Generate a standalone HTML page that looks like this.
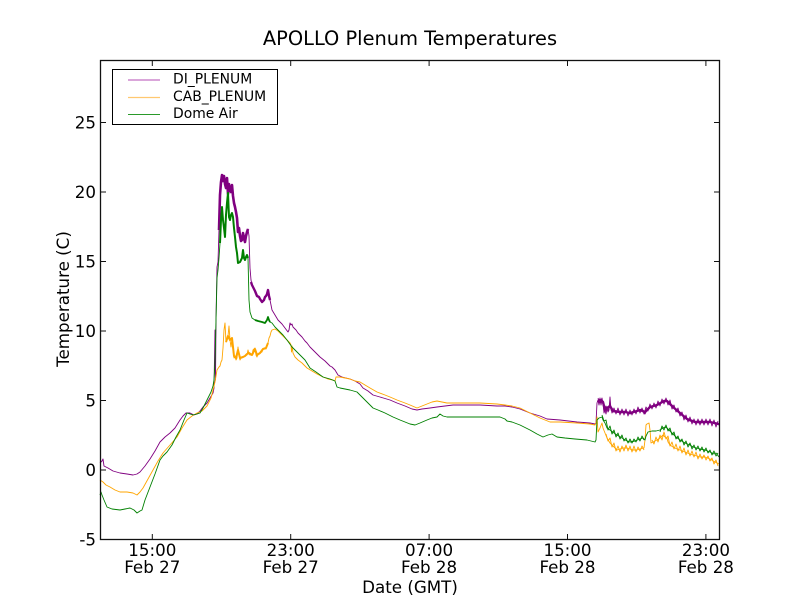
<!DOCTYPE html>
<html><head><meta charset="utf-8"><style>
html,body{margin:0;padding:0;background:#fff;}
svg{display:block;}
text{font-family:"DejaVu Sans","Liberation Sans",sans-serif;fill:#000;}
</style></head><body>
<svg width="800" height="600" viewBox="0 0 800 600" xmlns="http://www.w3.org/2000/svg">
<rect x="0" y="0" width="800" height="600" fill="#fff"/>
<text x="410" y="45" font-size="19.4" text-anchor="middle">APOLLO Plenum Temperatures</text>

<g fill="none" stroke-linejoin="round">
<!-- DI_PLENUM -->
<polyline stroke="#800080" stroke-width="0.9" points="100,463 102,461 103,459 104,466 108,468 113,471 120,473 127,474 133,475 137,474 140,472 145,466 150,459 155,451 160,442 165,437 170,433 175,428 180,420 183,416 186,413 190,413 194,415 197,414 200,411 203,407 207,403 210,398 213,393 214,388 215,330 215.5,380 216,320 217,267 218,262 219,230 220,195 221,182 222,175 223,181 224,176 225,184 226,188 227,178 228,194 229,184 230,190 231,192 232,185 233,196 234,203 235,207 236,212 237,218 238,232 239,228 240,236 241,241 242,240 243,233 244,238 245,242 246,236 247,232 248,229 249,236 250,268 251,280 252,285 254,289 255,291 257,296 259,297 260,299 262,302 264,300 265,297 266,296 267,294 268,290 269,296 270,300 271,305 272,310 275,315 278,320 282,324 285,328 288,332 289,330 290,323 291,325 292,324 293,327 296,330 298,333 302,337 305,341 307,343 310,347 315,352 320,357 325,361 330,366 332,367 335,370 338,375 342,377 346,378 350,379 355,381 360,384 363,388 368,391 373,395 380,397 390,400 397,403 405,406 412,409 417,410 422,409 430,408 437,407 445,406 453,405 470,405 480,405 497,406 505,406 512,407 520,409 530,413 540,416 547,419 560,420 577,422 590,423 595,424 596,423 597,403 598,400 599,405 600,398 601,405 602,400 603,401 604,413 605,410 606,414 607,408 608,412 609,410 610,397 611,410 613,412 617,411 620,413 625,412 630,414 633,413 637,411 640,410 643,410 645,414 647,410 650,407 653,406 657,405 660,403 664,401 667,401 670,403 673,407 677,410 680,413 683,416 687,419 690,421 695,422 700,423 705,422 710,422 715,424 719,425"/>
<polyline stroke="#800080" stroke-width="2.6" points="219,230 220,195 221,182 222,175 223,181 224,176 225,184 226,188 227,178 228,194 229,184 230,190 231,192 232,185 233,196 234,203 235,207 236,212 237,218 238,232 239,228 240,236 241,241 242,240 243,233 244,238 245,242 246,236 247,232 248,229"/>
<polyline stroke="#800080" stroke-width="2.4" points="251,282 252,285 254,289 255,291 257,296 259,297 260,299 262,302 264,300 265,297 266,296 267,294 268,290 269,296 270,300"/>
<polyline stroke="#800080" stroke-width="2.4" points="598,401 600,400 603,402 605,410 607,408 610,406 613,411 620,412 625,412 630,413 637,411 640,410 645,412 650,407 657,405 664,401 667,401 673,407 680,413 687,419 695,422 705,422 710,422 719,424"/>
<polyline stroke="#800080" stroke-width="0.9" points="598,398 600,403 602,398 604,411 606,406 608,411 610,403 612,413 614,408 616,414 618,408 620,415 622,409 624,415 626,409 628,416 630,410 632,415 634,409 636,414 638,407 640,413 642,408 644,414 646,407 648,411 650,404 652,409 654,403 656,408 658,401 660,406 662,399 664,404 666,398 668,405 670,400 672,409 674,405 676,412 678,408 680,416 682,412 684,420 686,415 688,422 690,417 692,424 694,419 696,425 698,419 700,425 702,419 704,425 706,419 708,425 710,419 712,426 714,420 716,427 718,421"/>

<!-- CAB_PLENUM -->
<polyline stroke="#FFA500" stroke-width="0.9" points="100,480 103,482 106,485 110,487 115,490 120,492 127,492 133,493 137,495 140,492 143,488 148,479 153,470 158,461 163,453 170,445 177,437 182,428 187,420 192,416 197,413 202,411 207,406 211,398 213,390 215,382 217,370 219,367 220,366 221,362 222,360 223,348 224,330 225,323 226,342 227,338 228,336 229,326 230,340 231,347 232,338 233,350 234,358 235,356 236,360 237,358 238,347 239,355 240,360 241,358 243,357 245,356 247,355 248,350 249,354 250,355 252,355 253,350 255,348 256,355 257,357 258,354 260,353 262,352 263,349 265,348 266,349 267,345 268,343 269,338 270,336 271,332 272,330 275,329 278,331 280,333 283,336 285,338 288,341 290,343 291,345 291.5,352 292,346 293,353 294,355 295,357 298,360 302,363 305,366 307,368 312,371 317,374 323,377 328,379 333,380 335,381 336,377 340,377 345,378 350,379 355,381 360,382 365,385 370,388 377,392 385,395 390,397 397,400 405,403 410,405 417,408 422,406 427,404 432,402 437,401 442,402 447,403 453,403 470,403 480,403 497,404 505,405 512,406 520,408 530,413 540,418 550,422 560,422 577,423 590,424 595,425 596,423 597,417 598,432 600,428 602,423 603,428 605,433 607,438 610,443 613,446 617,450 620,449 623,448 627,448 630,449 633,450 637,450 640,449 644,448 645,440 646,425 647,424 649,423 650,430 651,443 653,442 657,440 660,438 663,435 665,437 667,438 668,442 670,445 673,447 677,449 680,450 685,452 690,454 693,455 697,456 700,457 705,457 710,459 715,462 719,464"/>
<polyline stroke="#FFA500" stroke-width="2" points="226,342 228,336 230,340 232,338 234,356 236,358 238,350 240,358 243,357 245,356 247,354 249,353 252,355 255,349 257,355 260,353 263,349 266,348 268,343"/>
<polyline stroke="#FFA500" stroke-width="0.9" points="606,434 608,441 610,438 612,447 614,443 616,451 618,446 620,452 622,446 624,451 626,445 628,451 630,446 632,452 634,446 636,452 638,447 640,451 642,446 644,450"/>
<polyline stroke="#FFA500" stroke-width="0.9" points="652,440 654,444 656,437 658,442 660,435 662,440 664,432 666,439 668,436 670,446 672,442 674,449 676,444 678,451 680,446 682,453 684,448 686,455 688,450 690,456 692,451 694,457 696,452 698,459 700,454 702,459 704,455 706,460 708,456 710,461 712,458 714,464 716,460 718,466"/>

<!-- Dome Air -->
<polyline stroke="#008000" stroke-width="0.9" points="100,495 101,492 102,495 104,500 107,507 112,509 120,510 125,509 130,508 134,510 137,513 140,511 142,510 145,500 150,487 155,474 160,460 163,456 167,452 172,445 176,437 180,430 184,420 187,413 190,414 193,415 197,414 200,413 203,408 207,400 211,392 213,386 214,380 215,362 216,320 217,278 218,270 219,258 220,243 221,220 222,207 223,220 224,228 225,237 226,215 227,203 228,193 229,217 230,220 231,215 232,213 233,217 234,228 235,237 236,247 237,253 238,263 240,262 242,258 243,250 244,258 245,260 246,257 247,255 248,258 249,300 250,312 252,318 255,320 258,321 262,322 265,323 267,320 268,317 269,320 270,322 272,323 275,327 278,330 283,335 287,340 292,347 298,353 302,357 305,360 310,368 316,372 323,377 330,379 335,381 337,387 340,388 345,389 350,390 357,392 360,395 365,400 370,405 373,408 378,410 385,413 393,417 400,420 405,422 410,424 415,425 420,423 427,420 432,418 437,417 440,414 443,416 447,417 460,417 480,417 490,417 500,417 505,419 507,421 512,422 520,425 530,430 537,434 543,437 548,435 552,434 557,437 565,438 575,439 587,440 595,442 596,440 597,420 599,418 602,417 603,420 605,423 607,428 610,430 614,433 617,435 622,438 627,441 630,442 635,441 640,439 643,438 645,440 646,436 648,432 652,431 656,431 660,430 663,428 665,427 667,428 670,431 672,433 676,437 680,440 685,443 690,445 693,447 700,449 705,450 710,452 714,454 716,453 719,457"/>
<polyline stroke="#008000" stroke-width="2" points="220,243 221,220 222,207 223,220 224,228 225,237 226,215 227,203 228,193 229,217 230,220 231,215 232,213 233,217 234,228 235,237 236,247 237,253 238,263 240,262 242,258 243,250 244,258 245,260 246,257 247,255 248,258"/>
<polyline stroke="#008000" stroke-width="1.8" points="255,320 258,321 262,322 265,323 267,320 268,317 269,320 270,322"/>
<polyline stroke="#008000" stroke-width="0.9" points="602,415 604,421 606,420 608,430 610,426 612,434 614,430 616,437 618,433 620,439 622,435 624,441 626,438 628,443 630,439 632,443 634,439 636,442 638,437 640,441 642,436 644,440"/>
<polyline stroke="#008000" stroke-width="0.9" points="660,432 662,426 664,430 666,425 668,431 670,428 672,435 674,432 676,439 678,436 680,442 682,439 684,445 686,441 688,447 690,443 692,449 694,445 696,450 698,446 700,451 702,447 704,452 706,448 708,453 710,450 712,455 714,451 716,456 718,453"/>
</g>

<!-- axes frame -->
<rect x="100.5" y="60.5" width="619" height="479" fill="none" stroke="#111" stroke-width="1.3"/>

<!-- ticks -->
<g stroke="#111" stroke-width="1">
<line x1="152.3" y1="539" x2="152.3" y2="534"/><line x1="152.3" y1="61" x2="152.3" y2="66"/>
<line x1="290.7" y1="539" x2="290.7" y2="534"/><line x1="290.7" y1="61" x2="290.7" y2="66"/>
<line x1="429.1" y1="539" x2="429.1" y2="534"/><line x1="429.1" y1="61" x2="429.1" y2="66"/>
<line x1="567.5" y1="539" x2="567.5" y2="534"/><line x1="567.5" y1="61" x2="567.5" y2="66"/>
<line x1="705.9" y1="539" x2="705.9" y2="534"/><line x1="705.9" y1="61" x2="705.9" y2="66"/>
<line x1="101" y1="122.5" x2="106" y2="122.5"/><line x1="719" y1="122.5" x2="714" y2="122.5"/>
<line x1="101" y1="192" x2="106" y2="192"/><line x1="719" y1="192" x2="714" y2="192"/>
<line x1="101" y1="261.5" x2="106" y2="261.5"/><line x1="719" y1="261.5" x2="714" y2="261.5"/>
<line x1="101" y1="331" x2="106" y2="331"/><line x1="719" y1="331" x2="714" y2="331"/>
<line x1="101" y1="400.5" x2="106" y2="400.5"/><line x1="719" y1="400.5" x2="714" y2="400.5"/>
<line x1="101" y1="470" x2="106" y2="470"/><line x1="719" y1="470" x2="714" y2="470"/>
</g>

<!-- y tick labels -->
<g font-size="16.7" text-anchor="end">
<text x="96" y="128.5">25</text>
<text x="96" y="198">20</text>
<text x="96" y="267.5">15</text>
<text x="96" y="337">10</text>
<text x="96" y="406.5">5</text>
<text x="96" y="476">0</text>
<text x="96" y="545.5">-5</text>
</g>

<!-- x tick labels -->
<g font-size="16.7" text-anchor="middle">
<text x="152.3" y="556">15:00</text><text x="152.3" y="573">Feb 27</text>
<text x="290.7" y="556">23:00</text><text x="290.7" y="573">Feb 27</text>
<text x="429.1" y="556">07:00</text><text x="429.1" y="573">Feb 28</text>
<text x="567.5" y="556">15:00</text><text x="567.5" y="573">Feb 28</text>
<text x="705.9" y="556">23:00</text><text x="705.9" y="573">Feb 28</text>
</g>

<text x="410" y="593" font-size="16.7" text-anchor="middle">Date (GMT)</text>
<text x="0" y="0" font-size="16.7" text-anchor="middle" transform="translate(69,299) rotate(-90)">Temperature (C)</text>

<!-- legend -->
<rect x="112.5" y="69.5" width="165" height="55" fill="#fff" stroke="#000" stroke-width="1"/>
<line x1="128" y1="80" x2="160" y2="80" stroke="#b44db4" stroke-width="1"/>
<line x1="128" y1="97.5" x2="160" y2="97.5" stroke="#ffc870" stroke-width="1.2"/>
<line x1="128" y1="114.5" x2="160" y2="114.5" stroke="#2a9a2a" stroke-width="1"/>
<g font-size="13.9">
<text x="173" y="83.5">DI_PLENUM</text>
<text x="173" y="100.8">CAB_PLENUM</text>
<text x="173" y="118">Dome Air</text>
</g>
</svg>
</body></html>
